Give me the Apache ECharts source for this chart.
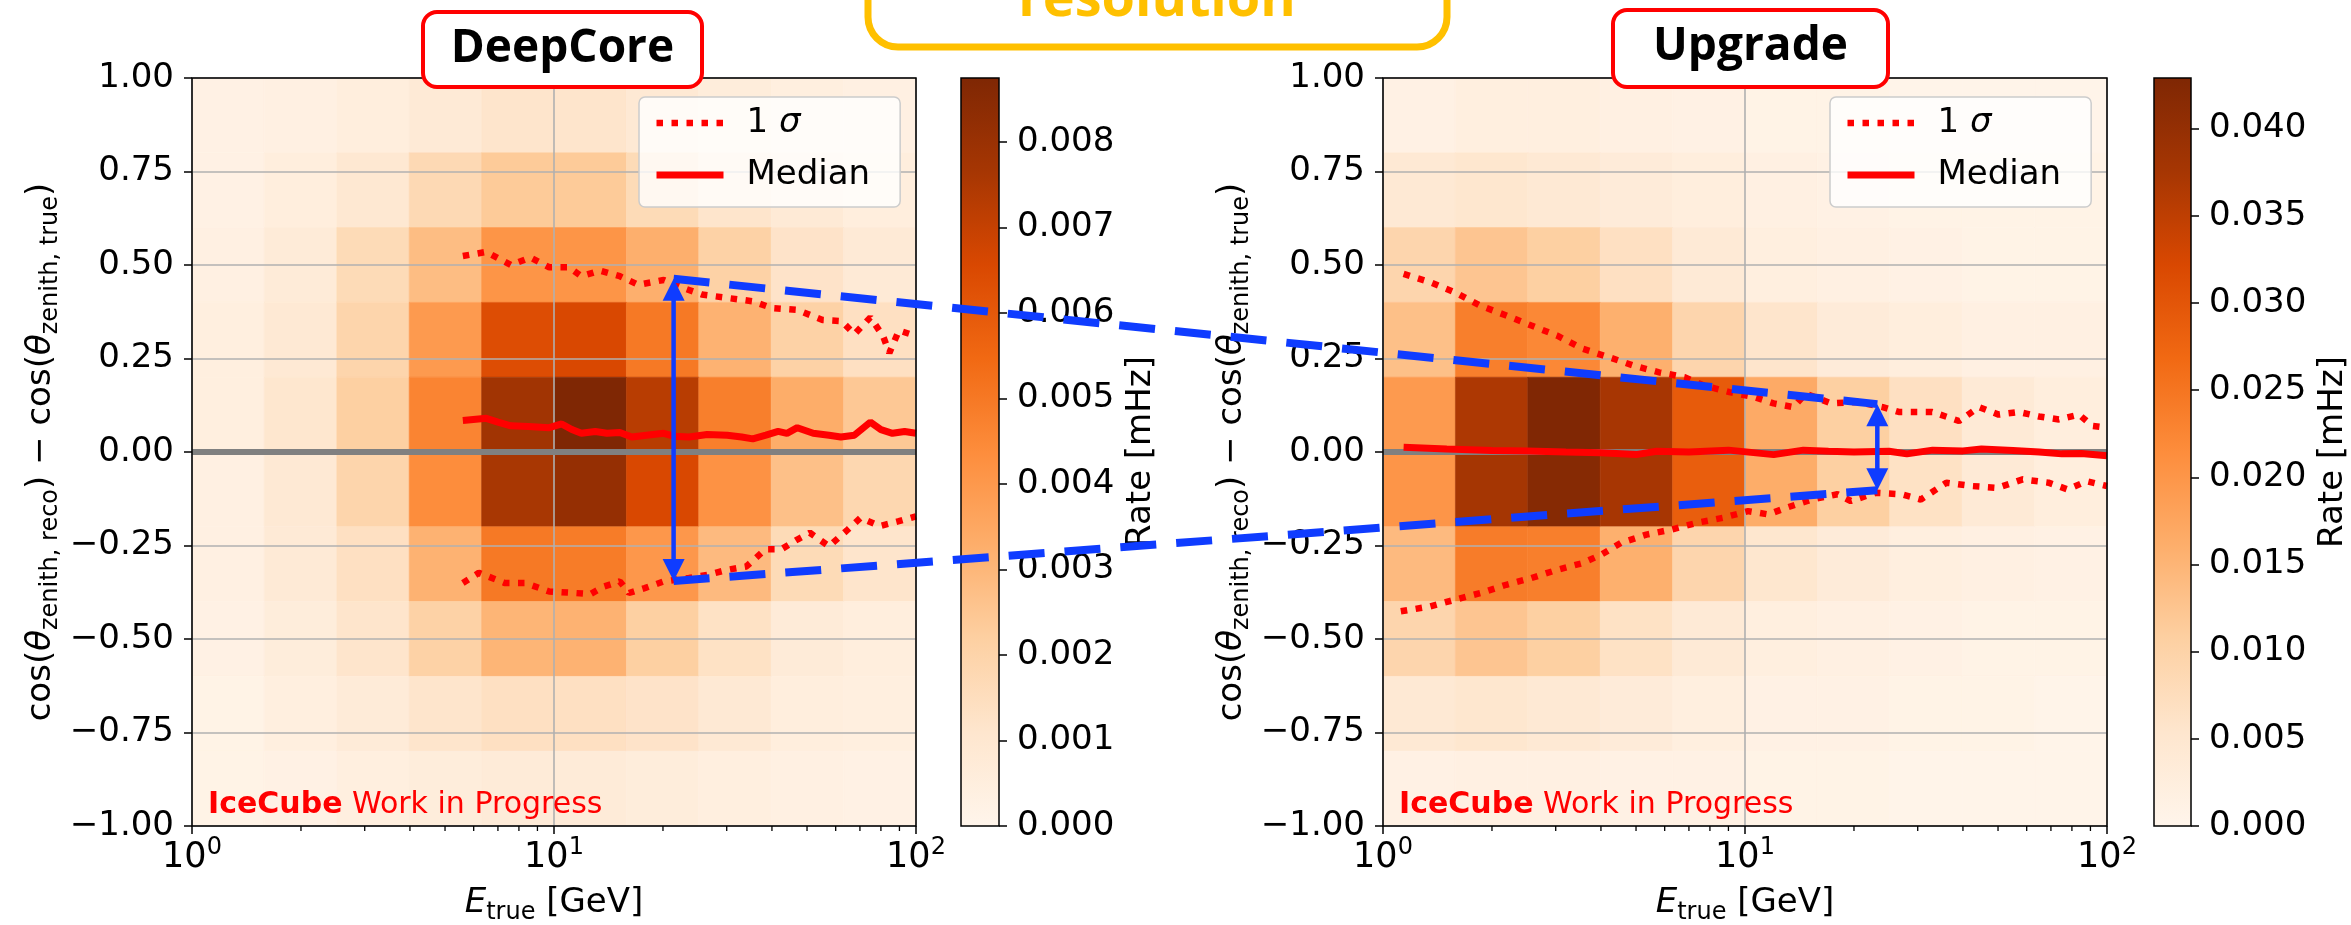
<!DOCTYPE html>
<html>
<head>
<meta charset="utf-8">
<script src="https://cdn.jsdelivr.net/npm/echarts@6/dist/echarts.min.js"></script>
<style>html,body{margin:0;padding:0;background:#fff;}#c{width:2351px;height:925px;}</style>
</head>
<body>
<div id="c"></div>
<script>
// ---------------- DATA ----------------
const energyEdges = [1, 1.585, 2.512, 3.981, 6.310, 10, 15.85, 25.12, 39.81, 63.10, 100];
const cosEdges = [-1, -0.8, -0.6, -0.4, -0.2, 0, 0.2, 0.4, 0.6, 0.8, 1];

// Rate [mHz], rows listed from top (0.8..1.0) to bottom (-1.0..-0.8)
const deepcoreRates = [
  [0.00026, 0.00035, 0.00053, 0.00079, 0.00114, 0.00114, 0.00088, 0.00061, 0.00044, 0.00035],
  [0.00026, 0.00053, 0.00096, 0.00175, 0.00236, 0.00236, 0.00166, 0.00114, 0.00079, 0.00053],
  [0.00035, 0.00070, 0.00166, 0.00280, 0.00411, 0.00411, 0.00324, 0.00210, 0.00123, 0.00079],
  [0.00044, 0.00088, 0.00193, 0.00394, 0.00639, 0.00656, 0.00499, 0.00315, 0.00210, 0.00140],
  [0.00044, 0.00105, 0.00219, 0.00464, 0.00779, 0.00875, 0.00726, 0.00481, 0.00333, 0.00245],
  [0.00035, 0.00088, 0.00193, 0.00438, 0.00761, 0.00814, 0.00656, 0.00420, 0.00271, 0.00184],
  [0.00035, 0.00079, 0.00140, 0.00315, 0.00499, 0.00490, 0.00403, 0.00289, 0.00166, 0.00114],
  [0.00026, 0.00061, 0.00114, 0.00210, 0.00306, 0.00315, 0.00219, 0.00131, 0.00070, 0.00053],
  [0.00018, 0.00044, 0.00070, 0.00114, 0.00140, 0.00140, 0.00123, 0.00088, 0.00053, 0.00044],
  [0.00018, 0.00026, 0.00044, 0.00061, 0.00070, 0.00070, 0.00061, 0.00044, 0.00035, 0.00026]
];
const upgradeRates = [
  [0.00128, 0.00214, 0.00214, 0.00171, 0.00128, 0.00086, 0.00086, 0.00043, 0.00043, 0.00043],
  [0.00428, 0.00514, 0.00428, 0.00342, 0.00257, 0.00171, 0.00128, 0.00086, 0.00086, 0.00086],
  [0.00942, 0.01241, 0.01070, 0.00685, 0.00385, 0.00214, 0.00171, 0.00128, 0.00086, 0.00086],
  [0.01327, 0.02354, 0.02226, 0.01584, 0.00942, 0.00556, 0.00342, 0.00257, 0.00171, 0.00171],
  [0.01926, 0.03681, 0.04280, 0.03745, 0.02910, 0.01669, 0.01070, 0.00685, 0.00385, 0.00257],
  [0.02012, 0.03766, 0.04194, 0.03745, 0.02868, 0.01626, 0.01070, 0.00642, 0.00385, 0.00257],
  [0.01412, 0.02397, 0.02354, 0.01584, 0.00942, 0.00514, 0.00342, 0.00214, 0.00171, 0.00128],
  [0.00942, 0.01241, 0.01070, 0.00642, 0.00385, 0.00214, 0.00171, 0.00128, 0.00086, 0.00086],
  [0.00428, 0.00514, 0.00428, 0.00342, 0.00214, 0.00128, 0.00128, 0.00086, 0.00086, 0.00043],
  [0.00128, 0.00171, 0.00171, 0.00128, 0.00128, 0.00086, 0.00086, 0.00043, 0.00043, 0.00043]
];
const deepcoreMax = 0.00875;
const upgradeMax = 0.0429;
const deepcoreCbTicks = [0, 0.001, 0.002, 0.003, 0.004, 0.005, 0.006, 0.007, 0.008];
const upgradeCbTicks = [0, 0.005, 0.010, 0.015, 0.020, 0.025, 0.030, 0.035, 0.040];
const minorTickEnergies = [2, 3, 4, 5, 6, 7, 8, 9, 20, 30, 40, 50, 60, 70, 80, 90];
const zeroLine = [[1, 0], [100, 0]];

const deepcoreMedian = [[5.6,0.084],[6.5,0.09],[7.0,0.08],[7.6,0.07],[8.5,0.068],[9.7,0.065],[10.5,0.075],[11.2,0.06],[11.9,0.05],[13.0,0.055],[14.0,0.05],[15.2,0.052],[16.4,0.04],[18.0,0.045],[20.1,0.05],[21.5,0.042],[23.6,0.04],[26.5,0.047],[30.1,0.045],[33.0,0.04],[35.4,0.035],[38.5,0.045],[41.6,0.055],[44.0,0.05],[47.0,0.065],[52.0,0.05],[57.5,0.045],[62.0,0.04],[67.6,0.045],[74.8,0.08],[80.0,0.06],[86.1,0.05],[93.0,0.055],[100,0.05]];
const deepcoreUpper = [[5.6,0.524],[6.5,0.535],[7.6,0.50],[8.6,0.52],[9.7,0.494],[11.0,0.494],[11.9,0.47],[13.4,0.485],[15.2,0.47],[17.1,0.447],[20.1,0.46],[22.7,0.439],[25.6,0.421],[30.1,0.412],[35.4,0.403],[40.0,0.385],[47.0,0.38],[55.2,0.353],[62.3,0.35],[67.6,0.315],[74.8,0.36],[81.1,0.31],[84.4,0.265],[89.7,0.325],[100,0.31]];
const deepcoreLower = [[5.6,-0.35],[6.2,-0.323],[7.3,-0.35],[8.3,-0.35],[9.7,-0.373],[11.4,-0.377],[12.6,-0.38],[13.7,-0.36],[15.2,-0.346],[16.1,-0.377],[17.8,-0.364],[20.1,-0.346],[23.6,-0.337],[26.7,-0.328],[30.1,-0.315],[34.0,-0.306],[38.4,-0.26],[42.5,-0.26],[47.0,-0.234],[50.9,-0.216],[57.5,-0.252],[64.9,-0.207],[70.3,-0.176],[79.4,-0.198],[89.7,-0.185],[100,-0.172]];

const upgradeMedian = [[1.14,0.013],[1.5,0.008],[2.0,0.004],[2.5,0.003],[3.2,0.0],[4.0,-0.002],[5.0,-0.007],[5.7,0.002],[7.0,0.0],[9.0,0.005],[12.0,-0.007],[14.5,0.005],[17.0,0.002],[20.0,0.0],[25.0,0.002],[28.0,-0.005],[33.0,0.005],[40.0,0.003],[45.0,0.008],[55.0,0.004],[65.0,0.0],[75.0,-0.005],[85.0,-0.004],[100,-0.01]];
const upgradeUpper = [[1.14,0.476],[1.35,0.454],[1.58,0.427],[1.86,0.391],[2.19,0.365],[2.57,0.338],[3.03,0.311],[3.56,0.276],[4.19,0.254],[4.92,0.231],[5.79,0.213],[6.81,0.2],[7.69,0.178],[9.06,0.16],[10.6,0.147],[12.0,0.13],[13.6,0.12],[14.7,0.156],[17.3,0.13],[20.4,0.134],[24.0,0.12],[26.6,0.107],[32.9,0.107],[39.0,0.083],[44.3,0.12],[50.2,0.1],[57.1,0.107],[64.9,0.095],[73.6,0.087],[83.7,0.1],[91.0,0.07],[100,0.065]];
const upgradeLower = [[1.12,-0.426],[1.35,-0.413],[1.58,-0.395],[1.86,-0.377],[2.19,-0.355],[2.57,-0.337],[3.03,-0.315],[3.56,-0.297],[4.02,-0.274],[4.54,-0.243],[5.34,-0.221],[6.28,-0.207],[7.39,-0.189],[8.69,-0.176],[10.2,-0.158],[11.6,-0.167],[13.0,-0.149],[15.3,-0.127],[18.0,-0.113],[19.6,-0.131],[23.0,-0.109],[27.1,-0.113],[30.6,-0.127],[36.0,-0.082],[42.3,-0.091],[49.8,-0.096],[58.5,-0.073],[68.9,-0.082],[77.8,-0.1],[87.9,-0.078],[100,-0.091]];

// resolution annotations (energy [GeV], cos difference)
const deepcoreArrow = { energy: 21.4, top: 0.463, bottom: -0.345 };
const upgradeArrow = { energy: 23.2, top: 0.128, bottom: -0.102 };

const oranges = ['#fff5eb','#fee6ce','#fdd0a2','#fdae6b','#fd8d3c','#f16913','#d94801','#a63603','#7f2704'];

// ---------------- CHART ----------------
const FONT = 'DejaVu Sans';
const RED = '#ff0000';
const SIGMA_STYLE = { color: RED, width: 6.5, type: [6.5, 8.5] };
const MEDIAN_STYLE = { color: RED, width: 7 };
const chart = echarts.init(document.getElementById('c'), null, { renderer: 'canvas', width: 2351, height: 925 });

function cells(rates) {
  const out = [];
  const n = cosEdges.length;
  rates.forEach((row, r) => {
    const yTop = cosEdges[n - 1 - r];
    const yBot = cosEdges[n - 2 - r];
    row.forEach((v, c) => out.push([energyEdges[c], energyEdges[c + 1], yBot, yTop, v]));
  });
  return out;
}
function heatItem(params, api) {
  const p0 = api.coord([api.value(0), api.value(2)]);
  const p1 = api.coord([api.value(1), api.value(3)]);
  const col = api.visual('color');
  return { type: 'rect', shape: { x: p0[0], y: p1[1], width: p1[0] - p0[0], height: p0[1] - p1[1] },
           style: { fill: col, stroke: col, lineWidth: 0.6 } };
}
function minorItem(params, api) {
  const p = api.coord([api.value(0), cosEdges[0]]);
  return { type: 'line', shape: { x1: p[0], y1: p[1], x2: p[0], y2: p[1] + 5 }, style: { stroke: '#000', lineWidth: 1.3 } };
}
function cbItem(params, api) {
  const p0 = api.coord([api.value(0), api.value(2)]);
  const p1 = api.coord([api.value(1), api.value(3)]);
  return { type: 'rect', shape: { x: p0[0], y: p1[1], width: p1[0] - p0[0], height: p0[1] - p1[1] },
    style: { fill: new echarts.graphic.LinearGradient(0, 1, 0, 0, oranges.map((c, i) => ({ offset: i / (oranges.length - 1), color: c }))) } };
}

function plotSeries(ax, rates, upper, lower, median) {
  const base = { xAxisIndex: ax, yAxisIndex: ax, silent: true, animation: false };
  return [
    Object.assign({ type: 'custom', data: cells(rates), renderItem: heatItem, encode: { x: [0, 1], y: [2, 3] }, z: 1 }, base),
    Object.assign({ type: 'line', data: zeroLine, symbol: 'none', lineStyle: { color: '#808080', width: 6 }, z: 4 }, base),
    Object.assign({ type: 'line', name: '1 σ', data: upper, symbol: 'none', itemStyle: { color: RED }, lineStyle: SIGMA_STYLE, z: 5 }, base),
    Object.assign({ type: 'line', name: '1 σ', data: lower, symbol: 'none', itemStyle: { color: RED }, lineStyle: SIGMA_STYLE, z: 5 }, base),
    Object.assign({ type: 'line', name: 'Median', data: median, symbol: 'none', itemStyle: { color: RED }, lineStyle: MEDIAN_STYLE, z: 5 }, base),
    Object.assign({ type: 'custom', data: minorTickEnergies.map(e => [e]), renderItem: minorItem, encode: { x: 0 }, z: 6 }, base)
  ];
}
function cbSeries(ax, vmax) {
  return { type: 'custom', xAxisIndex: ax, yAxisIndex: ax, silent: true, data: [[0, 1, 0, vmax]], renderItem: cbItem, encode: { x: [0, 1], y: [2, 3] }, z: 1 };
}

const tickLine = { show: true, length: 8, lineStyle: { color: '#000', width: 1.5 } };
function mainX(grid) {
  return {
    type: 'log', logBase: 10, min: 1, max: 100, gridIndex: grid, z: 3,
    axisLine: { show: false, onZero: false },
    axisTick: tickLine,
    splitLine: { show: true, lineStyle: { color: '#b0b0b0', width: 1.6 } },
    axisLabel: {
      margin: 10, color: '#000',
      formatter: v => '{b|10}{p|' + Math.round(Math.log10(v)) + '}',
      rich: { b: { fontSize: 35, fontFamily: FONT, color: '#000', lineHeight: 44 },
              p: { fontSize: 24, fontFamily: FONT, color: '#000', lineHeight: 24, verticalAlign: 'top' } }
    },
    name: '{i|E}{s|true}{n| [GeV]}', nameLocation: 'middle', nameGap: 55,
    nameTextStyle: { color: '#000', fontFamily: FONT, rich: {
      i: { fontSize: 34, fontFamily: FONT, fontStyle: 'italic', color: '#000', lineHeight: 44 },
      s: { fontSize: 24, fontFamily: FONT, color: '#000', lineHeight: 24, verticalAlign: 'bottom' },
      n: { fontSize: 34, fontFamily: FONT, color: '#000', lineHeight: 44 } } }
  };
}
function mainY(grid) {
  return {
    type: 'value', min: -1, max: 1, interval: 0.25, gridIndex: grid, z: 3,
    axisLine: { show: false, onZero: false },
    axisTick: tickLine,
    splitLine: { show: true, lineStyle: { color: '#b0b0b0', width: 1.6 } },
    axisLabel: { margin: 18, fontSize: 34, fontFamily: FONT, color: '#000',
      formatter: v => (v < 0 ? '\u2212' : '') + Math.abs(v).toFixed(2) },
    name: '{n|cos(}{i|θ}{s|zenith, reco}{n|) \u2212 cos(}{i|θ}{s|zenith, true}{n|)}',
    nameLocation: 'middle', nameRotate: 90, nameGap: 129,
    nameTextStyle: { color: '#000', fontFamily: FONT, rich: {
      n: { fontSize: 34, fontFamily: FONT, color: '#000', lineHeight: 44 },
      i: { fontSize: 34, fontFamily: FONT, fontStyle: 'italic', color: '#000', lineHeight: 44 },
      s: { fontSize: 24, fontFamily: FONT, color: '#000', lineHeight: 24, verticalAlign: 'bottom' } } }
  };
}
function cbX(grid) { return { type: 'value', min: 0, max: 1, gridIndex: grid, show: false }; }
function cbY(grid, vmax, ticks) {
  return {
    type: 'value', min: 0, max: vmax, gridIndex: grid, position: 'right', z: 3,
    axisLine: { show: false, onZero: false },
    axisTick: Object.assign({ customValues: ticks }, tickLine),
    splitLine: { show: false },
    axisLabel: { customValues: ticks, margin: 18, fontSize: 34, fontFamily: FONT, color: '#000', formatter: v => v.toFixed(3) },
    name: 'Rate [mHz]', nameLocation: 'middle', nameRotate: 90, nameGap: 125,
    nameTextStyle: { fontSize: 34, fontFamily: FONT, color: '#000' }
  };
}
const gridBase = { show: true, backgroundColor: 'transparent', borderColor: '#000', borderWidth: 1.5, z: 10, containLabel: false, outerBoundsMode: 'none' };
function legendCfg(left) {
  return {
    left: left, top: 97, orient: 'vertical', selectedMode: false,
    data: [
      { name: '1 σ', itemStyle: { opacity: 0 }, lineStyle: { color: RED, width: 6.5, type: [6.5, 8.5], opacity: 1 } },
      { name: 'Median', itemStyle: { opacity: 0 }, lineStyle: { color: RED, width: 7, type: 'solid', opacity: 1 } }
    ],
    itemWidth: 67, itemHeight: 20, itemGap: 18, padding: [9, 30, 15, 14],
    backgroundColor: 'rgba(255,255,255,0.8)', borderColor: '#cccccc', borderWidth: 1.5, borderRadius: 6, z: 8,
    formatter: n => n === '1 σ' ? '{g|}{t|1 }{i|σ}' : '{g|}{t|Median}',
    textStyle: { rich: {
      g: { width: 18 },
      t: { fontSize: 34, fontFamily: FONT, color: '#000', lineHeight: 40 },
      i: { fontSize: 34, fontFamily: FONT, fontStyle: 'italic', color: '#000', lineHeight: 40 } } }
  };
}

const option = {
  animation: false,
  backgroundColor: '#ffffff',
  grid: [
    Object.assign({ left: 192, top: 78, width: 724, height: 748 }, gridBase),
    Object.assign({ left: 961, top: 78, width: 38, height: 748 }, gridBase),
    Object.assign({ left: 1383, top: 78, width: 724, height: 748 }, gridBase),
    Object.assign({ left: 2154, top: 78, width: 37, height: 748 }, gridBase)
  ],
  xAxis: [mainX(0), cbX(1), mainX(2), cbX(3)],
  yAxis: [mainY(0), cbY(1, deepcoreMax, deepcoreCbTicks), mainY(2), cbY(3, upgradeMax, upgradeCbTicks)],
  visualMap: [
    { type: 'continuous', show: false, seriesIndex: 0, dimension: 4, min: 0, max: deepcoreMax, inRange: { color: oranges } },
    { type: 'continuous', show: false, seriesIndex: 7, dimension: 4, min: 0, max: upgradeMax, inRange: { color: oranges } }
  ],
  legend: [legendCfg(639), legendCfg(1830)],
  series: [].concat(
    plotSeries(0, deepcoreRates, deepcoreUpper, deepcoreLower, deepcoreMedian),
    [cbSeries(1, deepcoreMax)],
    plotSeries(2, upgradeRates, upgradeUpper, upgradeLower, upgradeMedian),
    [cbSeries(3, upgradeMax)]
  )
};
chart.setOption(option);

// ---------------- ANNOTATIONS ----------------
const BLUE = '#0f3cff';
function px(g, pt) { return chart.convertToPixel({ gridIndex: g }, pt); }
const lt = px(0, [deepcoreArrow.energy, deepcoreArrow.top]);
const lb = px(0, [deepcoreArrow.energy, deepcoreArrow.bottom]);
const rt = px(2, [upgradeArrow.energy, upgradeArrow.top]);
const rb = px(2, [upgradeArrow.energy, upgradeArrow.bottom]);
function head(tip, dir) {
  const h = 22, w = 11;
  return { type: 'polygon', z: 100, silent: true, shape: { points: [[tip[0], tip[1]], [tip[0] - w, tip[1] - dir * h], [tip[0] + w, tip[1] - dir * h]] }, style: { fill: BLUE } };
}
function shaft(a, b) {
  return { type: 'line', z: 100, silent: true, shape: { x1: a[0], y1: a[1] + 18, x2: b[0], y2: b[1] - 18 }, style: { stroke: BLUE, lineWidth: 4.5 } };
}
function dashed(a, b) {
  return { type: 'line', z: 100, silent: true, shape: { x1: a[0], y1: a[1], x2: b[0], y2: b[1] }, style: { stroke: BLUE, lineWidth: 8, lineDash: [36, 20] } };
}
function titleBox(x, y, w, h, text) {
  return [
    { type: 'rect', z: 60, silent: true, shape: { x: x, y: y, width: w, height: h, r: 14 }, style: { fill: '#fff', stroke: '#ff0000', lineWidth: 4 } },
    { type: 'text', z: 61, silent: true, style: { text: text, x: x + w / 2, y: y + 37, font: 'bold 46px "Open Sans"', fill: '#000', align: 'center', verticalAlign: 'middle' } }
  ];
}
function iceCube(g) {
  const p = px(g, [energyEdges[0], cosEdges[0]]);
  return { type: 'text', z: 50, silent: true, style: {
    x: p[0] + 16, y: p[1] - 21, text: '{b|IceCube} {n|Work in Progress}', fontSize: 30, fontFamily: FONT, fill: RED,
    align: 'left', verticalAlign: 'middle',
    rich: { b: { fontSize: 30, fontFamily: FONT, fontWeight: 'bold', fill: RED }, n: { fontSize: 30, fontFamily: FONT, fill: RED } } } };
}
chart.setOption({
  graphic: [].concat(
    [ { type: 'rect', z: 60, silent: true, shape: { x: 868, y: -40, width: 579, height: 87, r: 30 }, style: { fill: '#fff', stroke: '#ffc000', lineWidth: 7 } },
      { type: 'text', z: 61, silent: true, style: { text: 'resolution', x: 1157, y: 1, font: 'bold 54px "Open Sans"', fill: '#ffc000', align: 'center', verticalAlign: 'middle' } } ],
    titleBox(423, 12, 279, 75, 'DeepCore'),
    titleBox(1613, 10, 275, 77, 'Upgrade'),
    [iceCube(0), iceCube(2)],
    [dashed(lt, rt), dashed(lb, rb), shaft(lt, lb), shaft(rt, rb), head(lt, -1), head(lb, 1), head(rt, -1), head(rb, 1)]
  )
});
</script>
</body>
</html>
